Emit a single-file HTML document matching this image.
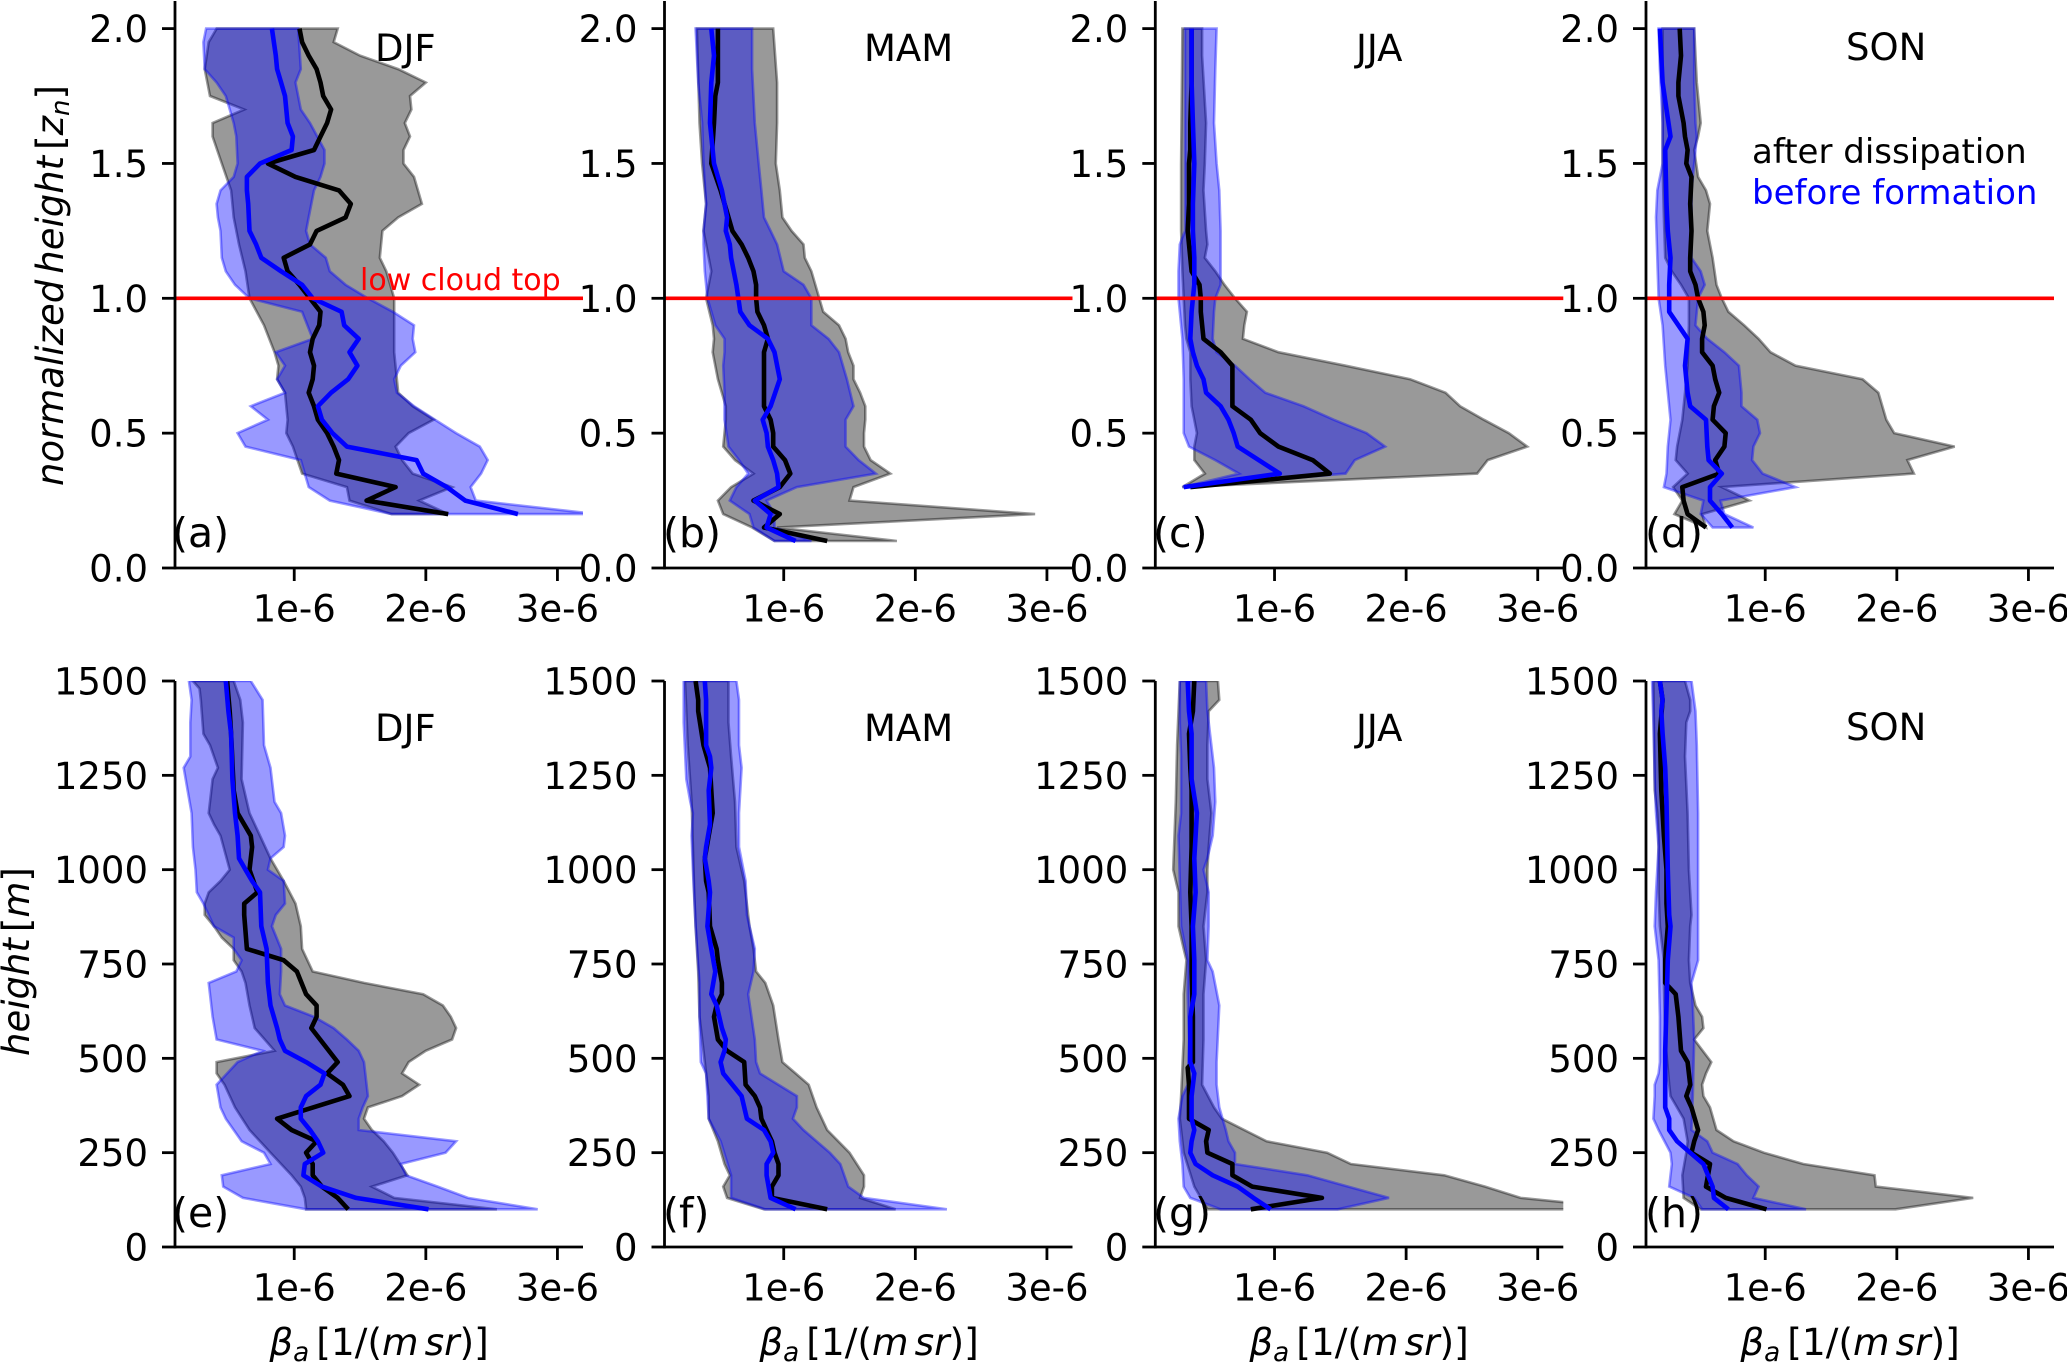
<!DOCTYPE html>
<html lang="en">
<head>
<meta charset="utf-8">
<title>Aerosol backscatter profiles by season</title>
<style>
html,body{margin:0;padding:0;background:#fff;}
svg{display:block;font-family:"DejaVu Sans","Liberation Sans",sans-serif;}
</style>
</head>
<body>
<svg id="chart" xmlns="http://www.w3.org/2000/svg" width="2067" height="1362" viewBox="0 0 2067 1362">
<rect x="0" y="0" width="2067" height="1362" fill="#fff"/>
<g id="panels"></g>
<g fill="#000" font-size="37">
<text x="375" y="61">DJF</text>
<text x="864" y="61">MAM</text>
<text x="1356" y="61">JJA</text>
<text x="1846" y="60">SON</text>
<text x="375" y="741">DJF</text>
<text x="864" y="741">MAM</text>
<text x="1356" y="741">JJA</text>
<text x="1846" y="740">SON</text>
<g font-size="41">
<text x="172" y="547">(a)</text>
<text x="663" y="547">(b)</text>
<text x="1153" y="547">(c)</text>
<text x="1645" y="547">(d)</text>
<text x="172" y="1227">(e)</text>
<text x="663" y="1227">(f)</text>
<text x="1153" y="1227">(g)</text>
<text x="1645" y="1227">(h)</text>
</g>
<text x="360" y="290" font-size="30" fill="#ff0000">low cloud top</text>
<text x="1752" y="163" font-size="34">after dissipation</text>
<text x="1752" y="204" font-size="34" fill="#0000ff">before formation</text>
<text transform="translate(63,486) rotate(-90)" font-size="37"><tspan font-style="italic">normalized</tspan><tspan dx="6" font-style="italic">height</tspan><tspan dx="6">[</tspan><tspan font-style="italic">z</tspan><tspan font-style="italic" font-size="26" dy="6">n</tspan><tspan dy="-6">]</tspan></text>
<text transform="translate(29,1056) rotate(-90)" font-size="37"><tspan font-style="italic">height</tspan><tspan dx="6">[</tspan><tspan font-style="italic">m</tspan><tspan>]</tspan></text>
<g font-size="37.5" text-anchor="middle">
<text x="379" y="1355"><tspan font-style="italic">β</tspan><tspan font-style="italic" font-size="26.3" dy="6">a</tspan><tspan dy="-6" dx="7">[1/(</tspan><tspan font-style="italic">m</tspan><tspan dx="6" font-style="italic">sr</tspan><tspan>)]</tspan></text>
<text x="869" y="1355"><tspan font-style="italic">β</tspan><tspan font-style="italic" font-size="26.3" dy="6">a</tspan><tspan dy="-6" dx="7">[1/(</tspan><tspan font-style="italic">m</tspan><tspan dx="6" font-style="italic">sr</tspan><tspan>)]</tspan></text>
<text x="1359" y="1355"><tspan font-style="italic">β</tspan><tspan font-style="italic" font-size="26.3" dy="6">a</tspan><tspan dy="-6" dx="7">[1/(</tspan><tspan font-style="italic">m</tspan><tspan dx="6" font-style="italic">sr</tspan><tspan>)]</tspan></text>
<text x="1850" y="1355"><tspan font-style="italic">β</tspan><tspan font-style="italic" font-size="26.3" dy="6">a</tspan><tspan dy="-6" dx="7">[1/(</tspan><tspan font-style="italic">m</tspan><tspan dx="6" font-style="italic">sr</tspan><tspan>)]</tspan></text>
</g>
</g>
</svg>
<script>
// Tick values and labels
const betaTicks = [1, 2, 3];
const betaTickLabels = ['1e-6', '2e-6', '3e-6'];
const normTicks = [0, 0.5, 1, 1.5, 2];
const normTickLabels = ['0.0', '0.5', '1.0', '1.5', '2.0'];
const heightTicks = [0, 250, 500, 750, 1000, 1250, 1500];
const heightTickLabels = ['0', '250', '500', '750', '1000', '1250', '1500'];
const cloudTopLevel = 1.0;

// Each entry: [height, beta in 1e-6 1/(m sr)]
// (a) DJF normalized height
const aGrayL = [[2,.41],[1.95,.35],[1.85,.32],[1.75,.36],[1.7,.62],[1.65,.38],[1.6,.38],[1.5,.45],[1.4,.52],[1.3,.54],[1.2,.58],[1.1,.63],[1,.66],[.9,.77],[.8,.85],[.75,.88],[.7,.87],[.65,.93],[.55,.95],[.5,.94],[.45,.99],[.35,1.06],[.3,1.40],[.25,1.42],[.2,1.74]];
const aGrayR = [[2,1.33],[1.95,1.30],[1.9,1.50],[1.85,1.79],[1.8,2.0],[1.75,1.88],[1.7,1.89],[1.65,1.84],[1.6,1.88],[1.55,1.83],[1.5,1.83],[1.45,1.91],[1.35,1.97],[1.3,1.79],[1.25,1.67],[1.15,1.65],[1.1,1.70],[1,1.76],[.9,1.76],[.8,1.76],[.65,1.79],[.6,1.90],[.55,2.06],[.5,1.87],[.45,1.77],[.4,1.82],[.35,1.90],[.3,2.20],[.25,1.95],[.2,2.17]];
const aBlueL = [[2,.33],[1.95,.31],[1.85,.32],[1.8,.41],[1.75,.48],[1.65,.54],[1.6,.56],[1.5,.57],[1.45,.54],[1.4,.44],[1.35,.41],[1.3,.42],[1.25,.44],[1.15,.45],[1.1,.48],[1.05,.55],[1,.66],[.95,1.06],[.85,1.14],[.8,.86],[.75,.93],[.7,.87],[.65,.93],[.6,.67],[.55,.80],[.5,.57],[.45,.63],[.4,1.05],[.3,1.11],[.25,1.27],[.2,1.74]];
const aBlueR = [[2,1.03],[1.85,1.05],[1.8,1.01],[1.7,1.05],[1.65,1.12],[1.55,1.23],[1.5,1.23],[1.45,1.20],[1.4,1.15],[1.3,1.11],[1.25,1.09],[1.2,1.12],[1.15,1.24],[1.1,1.27],[1.05,1.39],[1,1.56],[.95,1.75],[.9,1.91],[.85,1.90],[.8,1.92],[.75,1.81],[.7,1.76],[.65,1.78],[.6,1.91],[.55,2.07],[.5,2.23],[.45,2.41],[.4,2.47],[.35,2.42],[.3,2.34],[.25,2.38],[.2,3.3]];
const aBlack = [[2,1.04],[1.95,1.06],[1.9,1.11],[1.85,1.17],[1.8,1.20],[1.75,1.22],[1.7,1.28],[1.65,1.25],[1.6,1.20],[1.55,1.15],[1.5,.80],[1.45,1.01],[1.4,1.34],[1.35,1.43],[1.3,1.39],[1.25,1.17],[1.2,1.12],[1.15,.92],[1.1,.95],[1.05,1.04],[1,1.12],[.95,1.20],[.9,1.19],[.85,1.14],[.8,1.12],[.75,1.15],[.7,1.14],[.65,1.11],[.6,1.15],[.55,1.18],[.5,1.25],[.45,1.30],[.4,1.34],[.35,1.32],[.3,1.77],[.25,1.55],[.2,2.17]];
const aBlue = [[2,.83],[1.9,.86],[1.85,.87],[1.8,.90],[1.75,.93],[1.65,.95],[1.6,.99],[1.55,.98],[1.5,.74],[1.45,.64],[1.4,.64],[1.35,.65],[1.25,.66],[1.2,.71],[1.15,.75],[1.1,.90],[1.05,1.06],[1,1.14],[.95,1.36],[.9,1.38],[.85,1.49],[.8,1.42],[.75,1.48],[.7,1.41],[.65,1.28],[.6,1.18],[.55,1.21],[.5,1.29],[.45,1.40],[.4,1.93],[.35,1.98],[.3,2.16],[.25,2.30],[.2,2.70]];

// (b) MAM normalized height
const bGrayL = [[2,.34],[1.65,.36],[1.5,.38],[1.35,.41],[1.25,.39],[1.15,.43],[1.1,.45],[1,.41],[.9,.46],[.85,.47],[.8,.46],[.7,.50],[.6,.56],[.55,.56],[.45,.54],[.4,.63],[.35,.77],[.3,.60],[.25,.50],[.2,.54],[.15,.76],[.1,.93]];
const bGrayR = [[2,.92],[1.8,.95],[1.65,.95],[1.5,.94],[1.4,.97],[1.3,.99],[1.25,1.06],[1.2,1.15],[1.15,1.16],[1.1,1.21],[1,1.27],[.95,1.30],[.9,1.42],[.85,1.47],[.8,1.49],[.75,1.53],[.7,1.53],[.65,1.58],[.6,1.62],[.55,1.62],[.5,1.61],[.45,1.61],[.4,1.66],[.35,1.81],[.3,1.53],[.25,1.50],[.2,2.91],[.15,.95],[.1,1.86]];
const bBlueL = [[2,.33],[1.8,.35],[1.65,.38],[1.5,.39],[1.35,.41],[1.25,.39],[1.2,.39],[1.1,.40],[1,.42],[.9,.48],[.85,.55],[.8,.55],[.75,.54],[.65,.55],[.55,.55],[.45,.58],[.4,.66],[.35,.73],[.3,.64],[.25,.59],[.2,.74],[.15,.77],[.1,.93]];
const bBlueR = [[2,.76],[1.85,.76],[1.65,.78],[1.5,.81],[1.4,.83],[1.3,.85],[1.25,.90],[1.2,.95],[1.1,1.0],[1.05,1.15],[1,1.21],[.9,1.21],[.85,1.34],[.8,1.42],[.7,1.48],[.6,1.53],[.55,1.47],[.45,1.47],[.4,1.57],[.35,1.70],[.3,1.10],[.25,.87],[.2,.93],[.15,.93],[.1,1.21]];
const bBlack = [[2,.50],[1.8,.50],[1.75,.48],[1.65,.47],[1.5,.45],[1.4,.52],[1.3,.58],[1.25,.61],[1.2,.68],[1.15,.73],[1.1,.77],[1.05,.79],[1,.79],[.95,.80],[.9,.85],[.85,.88],[.8,.85],[.7,.85],[.6,.85],[.55,.90],[.5,.92],[.45,.92],[.4,1.01],[.35,1.05],[.3,.97],[.25,.77],[.2,.97],[.15,.85],[.1,1.33]];
const bBlue = [[2,.45],[1.9,.47],[1.8,.45],[1.65,.44],[1.5,.47],[1.4,.53],[1.3,.57],[1.25,.56],[1.2,.59],[1.15,.60],[1.05,.64],[.95,.67],[.9,.74],[.85,.88],[.8,.93],[.7,.97],[.6,.90],[.55,.84],[.5,.87],[.45,.88],[.4,.92],[.35,.95],[.3,.96],[.25,.78],[.2,.90],[.15,.87],[.1,1.09]];

// (c) JJA normalized height
const cGrayL = [[2,.30],[1.5,.29],[1.25,.29],[1.1,.30],[1,.31],[.9,.32],[.85,.33],[.8,.36],[.7,.36],[.6,.37],[.55,.39],[.5,.41],[.45,.39],[.4,.39],[.35,.47],[.3,.30]];
const cGrayR = [[2,.45],[1.9,.45],[1.65,.48],[1.5,.47],[1.4,.46],[1.25,.48],[1.2,.49],[1.15,.47],[1.1,.55],[1.05,.62],[1,.70],[.95,.79],[.9,.77],[.85,.76],[.8,1.03],[.75,1.54],[.7,2.03],[.65,2.30],[.6,2.41],[.55,2.59],[.5,2.78],[.45,2.92],[.4,2.62],[.35,2.54],[.3,.30]];
const cBlueL = [[2,.32],[1.5,.32],[1.25,.32],[1.2,.28],[1.1,.27],[1,.27],[.9,.29],[.85,.30],[.7,.31],[.55,.31],[.5,.31],[.45,.35],[.4,.55],[.35,.73],[.3,.30]];
const cBlueR = [[2,.56],[1.85,.55],[1.65,.54],[1.5,.56],[1.4,.58],[1.25,.59],[1.1,.59],[1.05,.59],[1,.55],[.95,.54],[.85,.53],[.8,.56],[.75,.70],[.7,.81],[.65,.93],[.6,1.22],[.55,1.45],[.5,1.70],[.45,1.84],[.4,1.61],[.35,1.54],[.3,.30]];
const cBlack = [[2,.37],[1.8,.37],[1.65,.36],[1.55,.36],[1.5,.35],[1.35,.35],[1.25,.34],[1.15,.36],[1.1,.37],[1.05,.43],[1,.44],[.95,.44],[.85,.46],[.8,.59],[.75,.68],[.7,.68],[.6,.68],[.55,.82],[.5,.89],[.45,1.03],[.4,1.29],[.35,1.42],[.3,.36]];
const cBlue = [[2,.37],[1.8,.37],[1.65,.38],[1.5,.39],[1.35,.38],[1.25,.38],[1.15,.39],[1.05,.39],[1,.38],[.95,.37],[.85,.36],[.8,.38],[.75,.41],[.7,.46],[.65,.48],[.6,.59],[.55,.65],[.5,.69],[.45,.72],[.4,.88],[.35,1.04],[.3,.31]];

// (d) SON normalized height
const dGrayL = [[2,.22],[1.65,.22],[1.5,.22],[1.3,.23],[1.15,.24],[1.1,.29],[1.05,.36],[1,.42],[.9,.42],[.75,.41],[.65,.39],[.55,.37],[.45,.33],[.4,.32],[.35,.41],[.3,.30],[.25,.37],[.2,.31],[.15,.55]];
const dGrayR = [[2,.46],[1.8,.48],[1.65,.51],[1.6,.49],[1.55,.46],[1.45,.49],[1.4,.55],[1.35,.58],[1.25,.56],[1.15,.60],[1.05,.63],[1,.67],[.95,.72],[.9,.84],[.85,.95],[.8,1.04],[.75,1.23],[.7,1.74],[.65,1.86],[.55,1.92],[.5,1.98],[.45,2.44],[.4,2.08],[.35,2.13],[.3,.67],[.25,.88],[.2,.52],[.15,.55]];
const dBlueL = [[2,.19],[1.85,.20],[1.65,.22],[1.5,.22],[1.4,.18],[1.3,.17],[1.15,.18],[1,.19],[.9,.22],[.75,.24],[.55,.28],[.45,.26],[.35,.25],[.3,.23],[.25,.53],[.2,.51],[.15,.60]];
const dBlueR = [[2,.46],[1.8,.46],[1.65,.47],[1.6,.48],[1.5,.46],[1.4,.44],[1.15,.44],[1.1,.51],[1.05,.54],[1,.49],[.9,.47],[.85,.56],[.8,.69],[.75,.80],[.65,.82],[.6,.82],[.55,.94],[.5,.96],[.45,.91],[.4,.90],[.35,.98],[.3,1.23],[.25,.66],[.2,.69],[.15,.91]];
const dBlack = [[2,.35],[1.9,.36],[1.8,.34],[1.75,.34],[1.65,.38],[1.6,.39],[1.55,.41],[1.5,.40],[1.45,.44],[1.35,.43],[1.25,.44],[1.15,.43],[1.1,.43],[1.05,.47],[1,.49],[.95,.53],[.9,.54],[.85,.52],[.8,.52],[.75,.60],[.7,.62],[.65,.65],[.6,.61],[.55,.60],[.5,.70],[.45,.69],[.4,.62],[.35,.65],[.3,.37],[.25,.38],[.2,.41],[.15,.55]];
const dBlue = [[2,.20],[1.8,.22],[1.7,.25],[1.6,.28],[1.55,.24],[1.35,.25],[1.25,.26],[1.15,.28],[1.05,.27],[.95,.27],[.9,.34],[.85,.41],[.75,.39],[.65,.41],[.6,.43],[.55,.55],[.45,.56],[.4,.57],[.35,.67],[.3,.58],[.25,.58],[.2,.67],[.15,.75]];

// (e) DJF height in metres
const eGrayL = [[1500,.23],[1480,.28],[1450,.29],[1360,.31],[1330,.36],[1270,.42],[1240,.38],[1150,.35],[1120,.39],[1090,.44],[1000,.51],[970,.44],[940,.35],[910,.32],[880,.32],[850,.39],[820,.45],[790,.54],[760,.54],[730,.60],[700,.63],[640,.66],[580,.70],[520,.85],[490,.41],[460,.41],[430,.47],[370,.55],[310,.66],[250,.82],[190,.98],[160,1.05],[130,1.08],[100,1.09]];
const eGrayR = [[1500,.54],[1450,.59],[1390,.61],[1240,.60],[1150,.66],[1090,.74],[1030,.82],[970,.92],[910,1.01],[850,1.05],[790,1.06],[730,1.14],[700,1.53],[670,1.98],[640,2.13],[610,2.19],[580,2.23],[550,2.20],[520,2.0],[490,1.87],[460,1.82],[430,1.95],[400,1.82],[370,1.56],[340,1.53],[310,1.59],[280,1.68],[250,1.75],[190,1.86],[160,1.59],[130,1.76],[100,2.54]];
const eBlueL = [[1500,.20],[1450,.22],[1390,.21],[1300,.21],[1270,.16],[1210,.19],[1150,.22],[1060,.23],[1000,.25],[940,.26],[910,.31],[880,.35],[850,.39],[820,.54],[790,.54],[760,.60],[730,.56],[700,.35],[670,.36],[610,.38],[550,.41],[520,.76],[490,.57],[460,.49],[430,.41],[370,.44],[340,.48],[280,.60],[250,.77],[220,.82],[190,.45],[160,.46],[130,.61],[100,1.09]];
const eBlueR = [[1500,.67],[1450,.76],[1330,.77],[1270,.82],[1180,.85],[1150,.90],[1090,.93],[1060,.92],[1030,.82],[1000,.80],[970,.92],[910,.93],[880,.86],[850,.83],[790,.90],[730,.90],[670,.89],[640,.93],[610,1.15],[580,1.30],[550,1.40],[520,1.49],[490,1.53],[430,1.55],[400,1.56],[370,1.52],[340,1.49],[310,1.49],[280,2.23],[250,2.15],[220,1.81],[190,1.85],[160,2.09],[130,2.32],[100,2.85]];
const eBlack = [[1500,.49],[1420,.51],[1360,.52],[1210,.54],[1150,.57],[1090,.67],[1060,.68],[1000,.66],[940,.72],[910,.62],[880,.62],[790,.64],[760,.92],[730,1.02],[670,1.09],[640,1.17],[610,1.17],[580,1.13],[490,1.33],[460,1.25],[430,1.37],[400,1.42],[340,.87],[310,.98],[280,1.17],[250,1.09],[220,1.14],[190,1.14],[160,1.21],[130,1.33],[100,1.41]];
const eBlue = [[1500,.48],[1420,.50],[1360,.52],[1240,.53],[1150,.55],[1090,.57],[1030,.58],[1000,.63],[970,.68],[940,.74],[850,.75],[790,.79],[700,.80],[640,.82],[580,.87],[550,.89],[520,.93],[490,1.09],[460,1.23],[430,1.20],[400,1.09],[370,1.05],[340,1.05],[310,1.12],[280,1.18],[250,1.22],[220,1.08],[190,1.07],[160,1.21],[130,1.47],[100,2.02]];

// (f) MAM height in metres
const fGrayL = [[1500,.25],[1420,.26],[1330,.27],[1180,.30],[1060,.31],[940,.32],[850,.33],[730,.35],[610,.36],[520,.39],[400,.43],[340,.43],[280,.50],[220,.55],[190,.59],[160,.54],[130,.57],[100,.85]];
const fGrayR = [[1500,.58],[1390,.58],[1300,.60],[1180,.63],[1060,.64],[970,.70],[850,.74],[790,.77],[730,.79],[700,.86],[640,.92],[550,.96],[490,.99],[460,1.09],[430,1.19],[370,1.25],[310,1.33],[250,1.50],[190,1.61],[160,1.61],[130,1.58],[100,1.85]];
const fBlueL = [[1500,.24],[1390,.24],[1240,.26],[1180,.29],[1150,.31],[1090,.30],[1000,.31],[850,.33],[700,.36],[610,.36],[490,.37],[460,.41],[340,.43],[280,.52],[190,.60],[130,.60],[100,.86]];
const fBlueR = [[1500,.64],[1450,.66],[1330,.66],[1270,.68],[1150,.66],[1060,.66],[970,.71],[880,.72],[790,.78],[730,.77],[670,.73],[550,.78],[490,.79],[460,.82],[400,1.10],[370,1.10],[340,1.07],[310,1.15],[250,1.35],[220,1.43],[160,1.49],[130,1.61],[100,2.24]];
const fBlack = [[1500,.33],[1450,.35],[1420,.35],[1330,.39],[1270,.44],[1210,.45],[1150,.46],[1090,.43],[1030,.40],[970,.41],[940,.43],[850,.44],[790,.49],[760,.50],[700,.53],[670,.53],[640,.49],[610,.47],[550,.50],[520,.57],[490,.70],[430,.71],[400,.78],[370,.82],[340,.83],[310,.87],[280,.91],[250,.93],[220,.96],[190,.96],[160,.91],[130,.91],[100,1.33]];
const fBlue = [[1500,.40],[1450,.41],[1330,.41],[1300,.44],[1270,.45],[1210,.43],[1120,.44],[1060,.41],[1030,.40],[970,.43],[940,.44],[850,.42],[790,.45],[730,.48],[670,.45],[640,.49],[580,.53],[550,.56],[520,.55],[490,.52],[460,.54],[400,.68],[340,.72],[310,.85],[280,.90],[250,.92],[220,.87],[190,.87],[130,.90],[100,1.09]];

// (g) JJA height in metres
const gGrayL = [[1500,.28],[1420,.27],[1330,.26],[1180,.25],[1090,.24],[1000,.23],[940,.27],[850,.27],[790,.31],[760,.33],[670,.31],[550,.31],[400,.29],[340,.28],[250,.31],[160,.39],[100,.49]];
const gGrayR = [[1500,.57],[1450,.58],[1420,.50],[1330,.49],[1240,.49],[1150,.52],[1060,.50],[1000,.49],[940,.49],[850,.46],[760,.48],[670,.46],[550,.46],[430,.45],[370,.54],[340,.60],[310,.77],[280,.94],[250,1.40],[220,1.58],[190,2.29],[160,2.60],[130,2.87],[100,3.74]];
const gBlueL = [[1500,.28],[1390,.28],[1300,.29],[1150,.29],[1090,.27],[850,.29],[760,.34],[670,.34],[550,.35],[430,.34],[400,.30],[340,.27],[280,.28],[220,.30],[160,.31],[130,.36],[100,.59]];
const gBlueR = [[1500,.48],[1420,.49],[1270,.54],[1180,.55],[1090,.53],[1030,.49],[1000,.46],[940,.50],[850,.50],[760,.49],[730,.53],[640,.58],[490,.56],[430,.56],[370,.58],[310,.63],[280,.65],[250,.70],[220,.70],[190,1.25],[160,1.56],[130,1.87],[100,1.48]];
const gBlack = [[1500,.39],[1420,.38],[1360,.35],[1270,.36],[1210,.37],[1060,.37],[940,.36],[850,.37],[730,.37],[610,.38],[490,.38],[475,.34],[430,.35],[340,.35],[310,.50],[280,.48],[250,.49],[220,.68],[190,.68],[160,.83],[130,1.36],[100,.82]];
const gBlue = [[1500,.34],[1420,.35],[1360,.37],[1240,.37],[1150,.41],[1030,.39],[940,.40],[850,.38],[760,.39],[670,.39],[610,.36],[550,.36],[490,.36],[460,.39],[400,.37],[340,.37],[310,.39],[280,.37],[250,.36],[220,.40],[190,.53],[160,.72],[130,.84],[100,.97]];

// (h) SON height in metres
const hGrayL = [[1500,.15],[1210,.16],[1150,.18],[1090,.19],[940,.19],[850,.20],[760,.23],[700,.23],[550,.24],[430,.27],[400,.28],[340,.38],[280,.41],[250,.40],[190,.37],[130,.38],[100,.51]];
const hGrayR = [[1500,.39],[1450,.43],[1420,.43],[1390,.40],[1300,.39],[1150,.41],[1000,.42],[880,.44],[850,.43],[760,.42],[700,.43],[640,.47],[610,.52],[580,.53],[550,.46],[490,.59],[460,.55],[430,.52],[400,.53],[370,.58],[310,.63],[280,.76],[250,.99],[220,1.29],[190,1.83],[160,1.84],[130,2.58],[100,1.99]];
const hBlueL = [[1500,.14],[1390,.15],[1240,.16],[1150,.17],[1060,.19],[940,.17],[850,.16],[760,.19],[610,.20],[490,.20],[460,.19],[430,.16],[400,.16],[340,.15],[310,.19],[250,.28],[220,.29],[160,.27],[130,.46],[100,.52]];
const hBlueR = [[1500,.44],[1420,.47],[1330,.48],[1150,.49],[1000,.49],[850,.49],[760,.49],[700,.44],[640,.45],[550,.46],[400,.45],[310,.44],[280,.56],[250,.60],[220,.79],[190,.86],[160,.95],[130,.91],[100,1.31]];
const hBlack = [[1500,.20],[1450,.22],[1360,.20],[1210,.21],[1090,.23],[1000,.25],[910,.25],[850,.26],[760,.24],[700,.24],[670,.32],[610,.34],[520,.36],[490,.41],[430,.43],[400,.40],[370,.44],[310,.49],[280,.46],[250,.44],[220,.58],[160,.55],[130,.70],[100,1.01]];
const hBlue = [[1500,.20],[1450,.22],[1420,.21],[1360,.22],[1270,.24],[1180,.25],[1000,.26],[880,.27],[850,.28],[760,.26],[640,.25],[520,.24],[400,.24],[370,.24],[340,.27],[310,.27],[280,.33],[250,.43],[220,.53],[160,.60],[130,.61],[100,.72]];

const panelIds = ['a', 'b', 'c', 'd', 'e', 'f', 'g', 'h'];
const panelSeries = {
  a: [aGrayL, aGrayR, aBlueL, aBlueR, aBlack, aBlue],
  b: [bGrayL, bGrayR, bBlueL, bBlueR, bBlack, bBlue],
  c: [cGrayL, cGrayR, cBlueL, cBlueR, cBlack, cBlue],
  d: [dGrayL, dGrayR, dBlueL, dBlueR, dBlack, dBlue],
  e: [eGrayL, eGrayR, eBlueL, eBlueR, eBlack, eBlue],
  f: [fGrayL, fGrayR, fBlueL, fBlueR, fBlack, fBlue],
  g: [gGrayL, gGrayR, gBlueL, gBlueR, gBlack, gBlue],
  h: [hGrayL, hGrayR, hBlueL, hBlueR, hBlack, hBlue]
};

// Layout
const columnLefts = [175, 664.5, 1155.3, 1646];
const betaMin = 0.094;
const betaPx = 131.6;
const axisWidth = 408;
const NS = 'http://www.w3.org/2000/svg';
const root = document.getElementById('panels');

function xAxisFn(col) {
  return function (v) { return columnLefts[col] + (v - betaMin) * betaPx; };
}
function yAxisFn(isTop) {
  return isTop
    ? function (h) { return 568 - h * 269.7; }
    : function (h) { return 1247 - h * 0.37733; };
}
function make(tag, parent) {
  const el = document.createElementNS(NS, tag);
  parent.appendChild(el);
  return el;
}
function pts(list, x, y) {
  return list.map(function (p) { return x(p[1]).toFixed(1) + ',' + y(p[0]).toFixed(1); }).join(' ');
}

panelIds.forEach(function (id, i) {
  const isTop = i < 4;
  const col = i % 4;
  const x = xAxisFn(col);
  const y = yAxisFn(isTop);
  const left = columnLefts[col];
  const right = left + axisWidth;
  const bottom = y(0);
  const top = isTop ? 1 : y(1500);
  const series = panelSeries[id];

  const g = make('g', root);
  
  

  const clip = make('clipPath', g);
  clip.setAttribute('id', 'clip-' + id);
  const clipRect = make('rect', clip);
  clipRect.setAttribute('x', left);
  clipRect.setAttribute('y', top);
  clipRect.setAttribute('width', axisWidth);
  clipRect.setAttribute('height', bottom - top);

  const marks = make('g', g);
  marks.setAttribute('clip-path', 'url(#clip-' + id + ')');
  
  

  const grayBand = make('polygon', marks);
  grayBand.setAttribute('points', pts(series[0], x, y) + ' ' + pts(series[1].slice().reverse(), x, y));
  grayBand.setAttribute('fill', '#000');
  grayBand.setAttribute('fill-opacity', '0.4');
  grayBand.setAttribute('stroke', '#000');
  grayBand.setAttribute('stroke-opacity', '0.4');
  grayBand.setAttribute('stroke-width', '2.6');
  
  

  const blueBand = make('polygon', marks);
  blueBand.setAttribute('points', pts(series[2], x, y) + ' ' + pts(series[3].slice().reverse(), x, y));
  blueBand.setAttribute('fill', '#0000ff');
  blueBand.setAttribute('fill-opacity', '0.4');
  blueBand.setAttribute('stroke', '#0000ff');
  blueBand.setAttribute('stroke-opacity', '0.4');
  blueBand.setAttribute('stroke-width', '2.6');
  
  

  const blackLine = make('polyline', marks);
  blackLine.setAttribute('points', pts(series[4], x, y));
  blackLine.setAttribute('fill', 'none');
  blackLine.setAttribute('stroke', '#000');
  blackLine.setAttribute('stroke-width', '4.6');
  blackLine.setAttribute('stroke-linejoin', 'round');
  
  

  const blueLine = make('polyline', marks);
  blueLine.setAttribute('points', pts(series[5], x, y));
  blueLine.setAttribute('fill', 'none');
  blueLine.setAttribute('stroke', '#0000ff');
  blueLine.setAttribute('stroke-width', '4.6');
  blueLine.setAttribute('stroke-linejoin', 'round');
  
  

  if (isTop) {
    const red = make('line', g);
    red.setAttribute('x1', left);
    red.setAttribute('x2', right);
    red.setAttribute('y1', y(cloudTopLevel));
    red.setAttribute('y2', y(cloudTopLevel));
    red.setAttribute('stroke', '#ff0000');
    red.setAttribute('stroke-width', '3.6');
    
    
  }

  const ySpine = make('line', g);
  ySpine.setAttribute('x1', left);
  ySpine.setAttribute('x2', left);
  ySpine.setAttribute('y1', top);
  ySpine.setAttribute('y2', bottom + 1.4);
  ySpine.setAttribute('stroke', '#000');
  ySpine.setAttribute('stroke-width', '2.8');
  
  

  const xSpine = make('line', g);
  xSpine.setAttribute('x1', left);
  xSpine.setAttribute('x2', right);
  xSpine.setAttribute('y1', bottom);
  xSpine.setAttribute('y2', bottom);
  xSpine.setAttribute('stroke', '#000');
  xSpine.setAttribute('stroke-width', '2.8');
  
  

  betaTicks.forEach(function (v, k) {
    const tick = make('line', g);
    tick.setAttribute('x1', x(v));
    tick.setAttribute('x2', x(v));
    tick.setAttribute('y1', bottom);
    tick.setAttribute('y2', bottom + 13);
    tick.setAttribute('stroke', '#000');
    tick.setAttribute('stroke-width', '2.8');
    
    
    const label = make('text', g);
    label.setAttribute('x', x(v));
    label.setAttribute('y', bottom + 53.5);
    label.setAttribute('text-anchor', 'middle');
    label.setAttribute('font-size', '37');
    
    
    label.textContent = betaTickLabels[k];
  });

  const yVals = isTop ? normTicks : heightTicks;
  const yLabels = isTop ? normTickLabels : heightTickLabels;
  yVals.forEach(function (v, k) {
    const tick = make('line', g);
    tick.setAttribute('x1', left - 13);
    tick.setAttribute('x2', left);
    tick.setAttribute('y1', y(v));
    tick.setAttribute('y2', y(v));
    tick.setAttribute('stroke', '#000');
    tick.setAttribute('stroke-width', '2.8');
    
    
    const label = make('text', g);
    label.setAttribute('x', left - 27);
    label.setAttribute('y', y(v) + 13.5);
    label.setAttribute('text-anchor', 'end');
    label.setAttribute('font-size', '37');
    
    
    label.textContent = yLabels[k];
  });
});
</script>
</body>
</html>
